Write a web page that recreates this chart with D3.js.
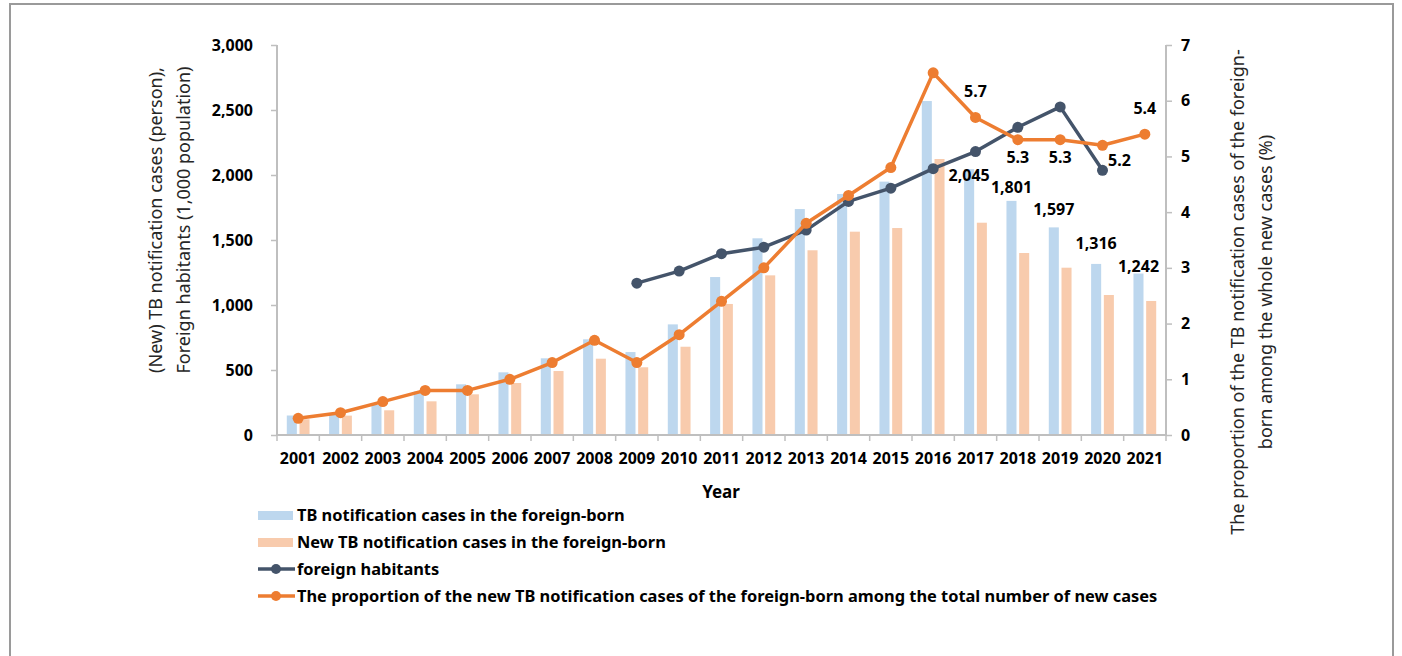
<!DOCTYPE html>
<html>
<head>
<meta charset="utf-8">
<script src="https://cdn.jsdelivr.net/npm/d3@7"></script>
<style>
  html, body { margin: 0; padding: 0; background: #fff; }
  svg { display: block; font-family: "Noto Sans", "Open Sans", sans-serif; }
</style>
</head>
<body>
<svg id="chart" width="1402" height="656"></svg>
<script>
// Tuberculosis among the foreign-born, 2001-2021
const years = ["2001","2002","2003","2004","2005","2006","2007","2008","2009","2010",
               "2011","2012","2013","2014","2015","2016","2017","2018","2019","2020","2021"];
const tbCases = [150, 160, 231, 335, 390, 482, 590, 736, 638, 851,
                 1215, 1513, 1738, 1854, 1949, 2569, 2045, 1801, 1597, 1316, 1242];
const newCases = [121, 149, 190, 259, 313, 400, 492, 587, 521, 679,
                  1008, 1228, 1421, 1564, 1592, 2123, 1633, 1400, 1287, 1077, 1031];
const habitantYears = ["2009","2010","2011","2012","2013","2014","2015","2016","2017","2018","2019","2020"];
const habitants = [1168, 1261, 1395, 1445, 1576, 1797, 1899, 2049, 2180, 2367, 2524, 2036];
const proportion = [0.3, 0.4, 0.6, 0.8, 0.8, 1.0, 1.3, 1.7, 1.3, 1.8,
                    2.4, 3.0, 3.8, 4.3, 4.8, 6.5, 5.7, 5.3, 5.3, 5.2, 5.4];
const leftTicks = [0, 500, 1000, 1500, 2000, 2500, 3000];
const rightTicks = [0, 1, 2, 3, 4, 5, 6, 7];
const labelledYears = ["2017","2018","2019","2020","2021"];
const seriesNames = [
  "TB notification cases in the foreign-born",
  "New TB notification cases in the foreign-born",
  "foreign habitants",
  "The proportion of the new TB notification cases of the foreign-born among the total number of new cases"
];

const C = { blue: "#bdd7ee", peach: "#f8cbad", navy: "#44546a", orange: "#ed7d31", axis: "#bfbfbf" };
const BOLD = 16;

const svg = d3.select("#chart");

// outer frame
svg.append("rect").attr("x", 10).attr("y", 4).attr("width", 1383).attr("height", 680)
  .attr("fill", "none").attr("stroke", "#9a9a9a").attr("stroke-width", 2);

const plot = { left: 277, right: 1166, top: 45, bottom: 435 };

const x = d3.scaleBand().domain(years).range([plot.left, plot.right]).padding(0);
const xs = d3.scaleBand().domain(["tb", "new"]).range([0, x.bandwidth()])
  .paddingInner(0.21).paddingOuter(0.77);
const yL = d3.scaleLinear().domain([0, 3000]).range([plot.bottom, plot.top]);
const yR = d3.scaleLinear().domain([0, 7]).range([plot.bottom, plot.top]);
const cx = d => x(d) + x.bandwidth() / 2;

// bars
const g = svg.append("g");
g.selectAll("rect.tb").data(years).join("rect").attr("class", "tb")
  .attr("x", d => x(d) + xs("tb")).attr("width", xs.bandwidth())
  .attr("y", (d, i) => yL(tbCases[i])).attr("height", (d, i) => plot.bottom - yL(tbCases[i]))
  .attr("fill", C.blue);
g.selectAll("rect.nw").data(years).join("rect").attr("class", "nw")
  .attr("x", d => x(d) + xs("new")).attr("width", xs.bandwidth())
  .attr("y", (d, i) => yL(newCases[i])).attr("height", (d, i) => plot.bottom - yL(newCases[i]))
  .attr("fill", C.peach);

// axes
const axisL = svg.append("g").attr("transform", `translate(${plot.left},0)`)
  .call(d3.axisLeft(yL).tickValues(leftTicks).tickSize(6).tickPadding(18).tickFormat(d3.format(",")));
const axisR = svg.append("g").attr("transform", `translate(${plot.right},0)`)
  .call(d3.axisRight(yR).tickValues(rightTicks).tickSize(6).tickPadding(9).tickFormat(d3.format("d")));
const axisB = svg.append("g").attr("transform", `translate(0,${plot.bottom})`)
  .call(d3.axisBottom(x).tickSize(0).tickPadding(18));
// tick marks at band boundaries on the category axis
axisB.selectAll("line.sep").data(years.concat(["end"])).join("line").attr("class", "sep")
  .attr("x1", (d, i) => plot.left + i * x.step()).attr("x2", (d, i) => plot.left + i * x.step())
  .attr("y1", 0).attr("y2", 6).attr("stroke", C.axis).attr("stroke-width", 1.5);

[axisL, axisR, axisB].forEach(a => {
  a.select(".domain").attr("stroke", C.axis).attr("stroke-width", 2);
  a.selectAll(".tick line").attr("stroke", C.axis).attr("stroke-width", 1.5);
  a.selectAll("text").attr("fill", "#000").attr("font-size", BOLD).attr("font-weight", 700)
    .attr("font-family", "'Noto Sans', sans-serif");
});
axisB.select(".domain").attr("d", `M${plot.left},0H${plot.right}`);
axisL.select(".domain").attr("d", `M0,${plot.bottom}V${plot.top}`);
axisR.select(".domain").attr("d", `M0,${plot.bottom}V${plot.top}`);

// lines
const habLine = d3.line().x(d => cx(d[0])).y(d => yL(d[1]));
const habData = habitantYears.map((y, i) => [y, habitants[i]]);
svg.append("path").datum(habData).attr("d", habLine)
  .attr("fill", "none").attr("stroke", C.navy).attr("stroke-width", 3.5).attr("stroke-linejoin", "round");
svg.selectAll("circle.hab").data(habData).join("circle").attr("class", "hab")
  .attr("cx", d => cx(d[0])).attr("cy", d => yL(d[1])).attr("r", 5.5).attr("fill", C.navy);

const propLine = d3.line().x(d => cx(d[0])).y(d => yR(d[1]));
const propData = years.map((y, i) => [y, proportion[i]]);
svg.append("path").datum(propData).attr("d", propLine)
  .attr("fill", "none").attr("stroke", C.orange).attr("stroke-width", 3.5).attr("stroke-linejoin", "round");
svg.selectAll("circle.prop").data(propData).join("circle").attr("class", "prop")
  .attr("cx", d => cx(d[0])).attr("cy", d => yR(d[1])).attr("r", 5.5).attr("fill", C.orange);

// data labels
const barNudge = { "2017": 12, "2018": -8, "2019": -12, "2020": -15, "2021": -2 };
svg.selectAll("text.barlab").data(labelledYears).join("text").attr("class", "barlab")
  .attr("x", d => x(d) + xs("tb") + xs.bandwidth() / 2)
  .attr("y", d => yL(tbCases[years.indexOf(d)]) + barNudge[d])
  .attr("text-anchor", "middle").attr("font-size", BOLD).attr("font-weight", 700)
  .text(d => d3.format(",")(tbCases[years.indexOf(d)]));

const propNudge = { "2017": [0, -20], "2018": [0, 23], "2019": [0, 23], "2020": [17, 21], "2021": [0, -20] };
svg.selectAll("text.proplab").data(labelledYears).join("text").attr("class", "proplab")
  .attr("x", d => cx(d) + propNudge[d][0])
  .attr("y", d => yR(proportion[years.indexOf(d)]) + propNudge[d][1])
  .attr("text-anchor", "middle").attr("font-size", BOLD).attr("font-weight", 700)
  .text(d => d3.format(".1f")(proportion[years.indexOf(d)]));

// axis titles
const titleL = svg.append("text").attr("transform", `translate(170,220) rotate(-90)`)
  .attr("text-anchor", "middle").attr("font-size", 18).attr("fill", "#262626");
titleL.append("tspan").attr("x", 0).attr("dy", -8).text("(New) TB notification cases (person),");
titleL.append("tspan").attr("x", 0).attr("dy", 28).text("Foreign habitants (1,000 population)");

const titleR = svg.append("text").attr("transform", `translate(1251,292) rotate(-90)`)
  .attr("text-anchor", "middle").attr("font-size", 18).attr("fill", "#262626");
titleR.append("tspan").attr("x", 0).attr("dy", -7).text("The proportion of the TB notification cases of the foreign-");
titleR.append("tspan").attr("x", 0).attr("dy", 28).text("born among the whole new cases (%)");

svg.append("text").attr("x", 721).attr("y", 498).attr("text-anchor", "middle")
  .attr("font-size", 17).attr("font-weight", 700).text("Year");

// legend
const legend = svg.append("g").attr("transform", "translate(258,515)");
const rowH = 27;
seriesNames.forEach((name, i) => {
  const row = legend.append("g").attr("transform", `translate(0,${i * rowH})`);
  if (i < 2) {
    row.append("rect").attr("x", 0).attr("y", -4).attr("width", 35).attr("height", 9)
      .attr("fill", i === 0 ? C.blue : C.peach);
  } else {
    const col = i === 2 ? C.navy : C.orange;
    row.append("line").attr("x1", 0).attr("x2", 37).attr("y1", 0).attr("y2", 0)
      .attr("stroke", col).attr("stroke-width", 3.5);
    row.append("circle").attr("cx", 18).attr("cy", 0).attr("r", 5).attr("fill", col);
  }
  row.append("text").attr("x", 39).attr("y", 6).attr("font-size", 16.4).attr("font-weight", 700)
    .text(name);
});
</script>
</body>
</html>
